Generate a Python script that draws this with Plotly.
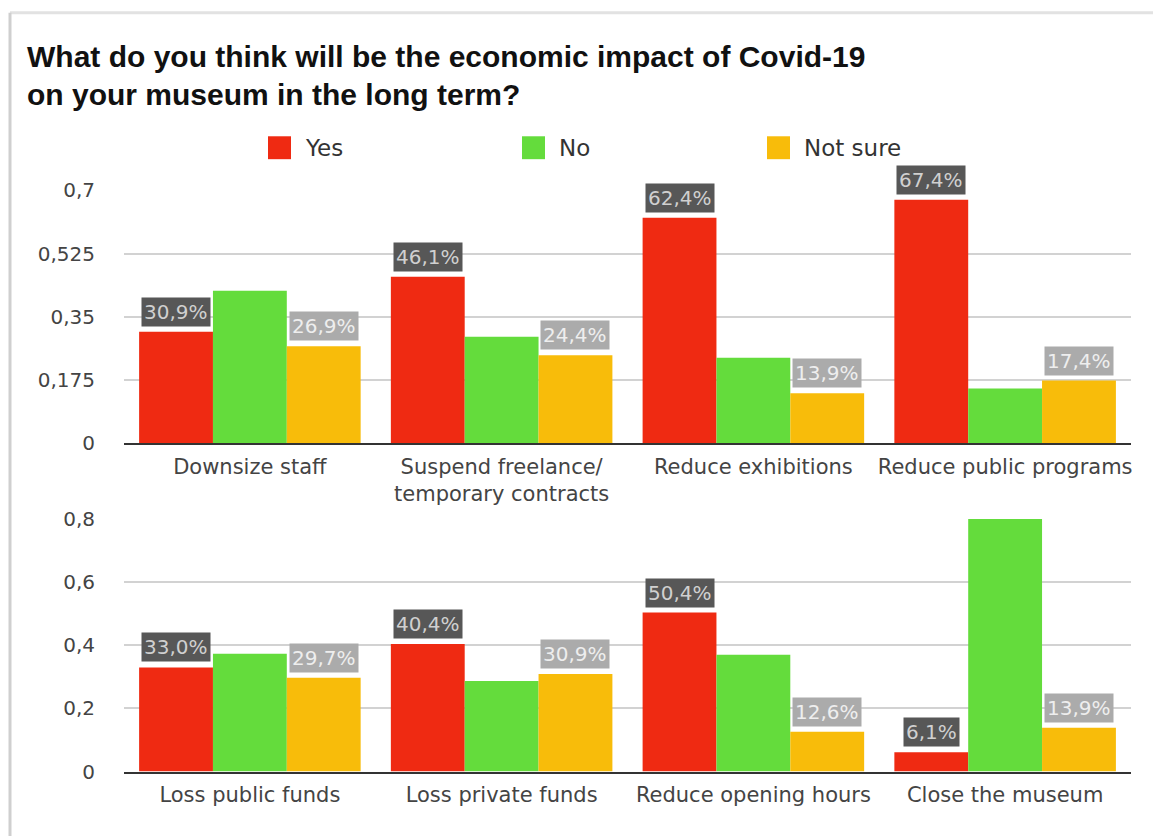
import plotly.graph_objects as go

# ---------------- data ----------------
series_names = ["Yes", "No", "Not sure"]
series_colors = ["#EF2A12", "#64DC3C", "#F8BC0A"]

top_categories = ["Downsize staff", "Suspend freelance/<br>temporary contracts",
                  "Reduce exhibitions", "Reduce public programs"]
top_yes = [0.309, 0.461, 0.624, 0.674]
top_no = [0.422, 0.295, 0.237, 0.152]
top_notsure = [0.269, 0.244, 0.139, 0.174]

bottom_categories = ["Loss public funds", "Loss private funds",
                     "Reduce opening hours", "Close the museum"]
bottom_yes = [0.330, 0.404, 0.504, 0.061]
bottom_no = [0.373, 0.287, 0.370, 0.800]
bottom_notsure = [0.297, 0.309, 0.126, 0.139]

top_ticks = [0, 0.175, 0.35, 0.525, 0.7]
bottom_ticks = [0, 0.2, 0.4, 0.6, 0.8]

title_lines = ["What do you think will be the economic impact of Covid-19",
               "on your museum in the long term?"]

# which series get a value label, and the label box style
label_bg = ["#575757", None, "#ABABAB"]
label_fg = ["#D0D0D0", None, "#EEEEEE"]

# ---------------- layout constants ----------------
W, H = 1153, 836
ML, MR = 124, 22
PW = W - ML - MR
BARGAP = 0.12
FONT = "DejaVu Sans"


def px_x(p):
    return (p - ML) / PW


def px_y(p):
    # vertical pixel position -> paper coordinate (calibrated against render)
    q = (p - 10.25) / 0.975
    return 1 - q / H


fig = go.Figure()

panels = [
    ("x", "y", top_categories, [top_yes, top_no, top_notsure], top_ticks),
    ("x2", "y2", bottom_categories, [bottom_yes, bottom_no, bottom_notsure], bottom_ticks),
]

annotations = []
bw = (1 - BARGAP) / len(series_names)
for xa, ya, cats, vals, ticks in panels:
    for s, (name, col, v) in enumerate(zip(series_names, series_colors, vals)):
        fig.add_trace(go.Bar(x=cats, y=v, name=name, marker_color=col,
                             marker_line_width=0, xaxis=xa, yaxis=ya,
                             showlegend=False))
        if label_bg[s] is None:
            continue
        for i, val in enumerate(v):
            annotations.append(dict(
                x=i + (s - 1) * bw, y=val, xref=xa, yref=ya,
                text=f"{val * 100:.1f}%".replace(".", ","),
                showarrow=False, yanchor="bottom", yshift=5,
                bgcolor=label_bg[s], borderpad=2,
                font=dict(family=FONT, size=20, color=label_fg[s])))

# title
for line, yc in zip(title_lines, [55, 93]):
    annotations.append(dict(x=px_x(25), y=px_y(yc), xref="paper", yref="paper",
                            xanchor="left", yanchor="middle", showarrow=False,
                            text="<b>" + line + "</b>",
                            font=dict(family="Liberation Sans", size=30, color="#111111")))

# custom legend
shapes = []
legend_x = [268, 522, 767]
for name, col, lx in zip(series_names, series_colors, legend_x):
    shapes.append(dict(type="rect", xref="paper", yref="paper",
                       x0=px_x(lx), x1=px_x(lx + 23), y0=px_y(158), y1=px_y(135),
                       fillcolor=col, line_width=0))
    annotations.append(dict(x=px_x(lx + 35), y=px_y(147), xref="paper", yref="paper",
                            xanchor="left", yanchor="middle", showarrow=False,
                            text=name, font=dict(family=FONT, size=23, color="#333333")))

# card frame
shapes.append(dict(type="line", xref="paper", yref="paper",
                   x0=px_x(10), x1=px_x(W), y0=px_y(11), y1=px_y(11),
                   line=dict(color="#E2E2E2", width=3)))
shapes.append(dict(type="line", xref="paper", yref="paper",
                   x0=px_x(10), x1=px_x(10), y0=px_y(11), y1=px_y(H + 30),
                   line=dict(color="#CFCFCF", width=3)))

ytick_font = dict(family=FONT, size=20, color="#444444")
xtick_font = dict(family=FONT, size=21, color="#444444")

fig.update_layout(
    width=W, height=H,
    margin=dict(l=ML, r=MR, t=0, b=0),
    paper_bgcolor="white", plot_bgcolor="white",
    barmode="group", bargap=BARGAP, bargroupgap=0,
    separators=", ",
    showlegend=False,
    annotations=annotations,
    shapes=shapes,
    xaxis=dict(domain=[0, 1], anchor="y", showline=True, linecolor="#333333",
               linewidth=2, showgrid=False, ticks="", tickfont=xtick_font,
               ticklabelstandoff=3),
    xaxis2=dict(domain=[0, 1], anchor="y2", showline=True, linecolor="#333333",
                linewidth=2, showgrid=False, ticks="", tickfont=xtick_font,
                ticklabelstandoff=3),
    yaxis=dict(domain=[px_y(443.3), px_y(189.3)], anchor="x", range=[0, 0.7],
               tickvals=top_ticks, showgrid=True, gridcolor="#D2D2D2", gridwidth=2,
               zeroline=False, ticks="", ticklabelstandoff=28, tickfont=ytick_font),
    yaxis2=dict(domain=[px_y(772.7), px_y(519.3)], anchor="x2", range=[0, 0.8],
                tickvals=bottom_ticks, showgrid=True, gridcolor="#D2D2D2", gridwidth=2,
                zeroline=False, ticks="", ticklabelstandoff=28, tickfont=ytick_font),
)

fig.write_html("out.html")
